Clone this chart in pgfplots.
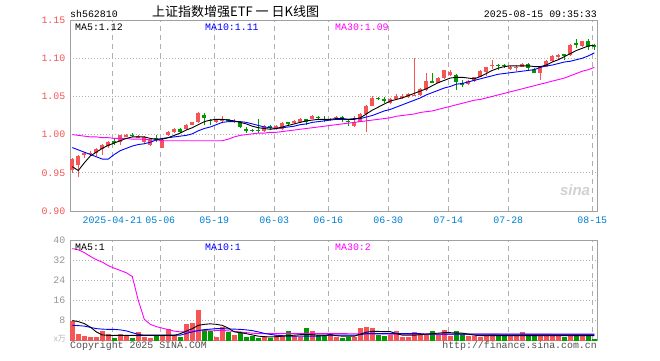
\documentclass[border=0pt]{standalone}
\usepackage{fontspec}
\usepackage{pgfplots}
\usepackage{pgfplotstable}
\pgfplotsset{compat=1.18}
\setmainfont{Liberation Mono}
\newfontfamily\cjk{Noto Sans CJK SC}
\newfontfamily\sansf{Liberation Sans}
\definecolor{cred}{RGB}{245,85,85}
\definecolor{cgreen}{RGB}{0,153,0}
\definecolor{cblue}{RGB}{0,0,255}
\definecolor{cmag}{RGB}{255,0,255}
\definecolor{cframe}{RGB}{160,160,160}
\definecolor{cgrid}{RGB}{175,175,175}
\definecolor{cdate}{RGB}{0,128,208}
\definecolor{cvlab}{RGB}{150,150,150}
\definecolor{ccopy}{RGB}{80,80,80}

\pgfplotstableread{
i o h l c v
0 0.954 0.970 0.950 0.968 8.0
1 0.960 0.973 0.944 0.972 2.6
2 0.973 0.977 0.970 0.976 1.8
3 0.975 0.978 0.972 0.976 1.4
4 0.976 0.982 0.972 0.981 1.4
5 0.981 0.988 0.973 0.986 3.7
6 0.985 0.992 0.983 0.990 2.6
8 0.990 1.000 0.986 0.999 2.6
9 0.998 1.001 0.997 0.999 1.8
11 0.996 0.999 0.995 0.998 3.4
12 0.990 0.998 0.988 0.997 1.4
13 0.986 0.995 0.985 0.994 1.0
15 0.983 0.994 0.982 0.993 1.8
16 0.999 1.005 0.998 1.004 4.5
17 1.003 1.008 1.002 1.007 2.2
19 1.007 1.014 1.006 1.012 6.8
20 1.013 1.017 1.012 1.016 7.2
21 1.016 1.030 1.015 1.028 12.3
24 1.016 1.020 1.015 1.019 1.4
25 1.018 1.024 1.016 1.019 5.3
27 1.017 1.020 1.015 1.018 2.2
32 1.005 1.013 1.004 1.011 1.8
34 1.007 1.012 1.006 1.011 2.2
35 1.007 1.016 1.006 1.015 1.8
37 1.015 1.019 1.014 1.018 1.8
38 1.017 1.022 1.016 1.021 1.4
40 1.021 1.026 1.020 1.025 3.7
43 1.019 1.022 1.018 1.021 2.6
44 1.022 1.024 1.020 1.023 1.3
47 1.011 1.025 1.010 1.016 1.5
48 1.017 1.028 1.016 1.027 5.0
49 1.027 1.039 1.003 1.038 5.4
50 1.038 1.050 1.037 1.048 5.0
53 1.041 1.048 1.040 1.047 2.2
54 1.047 1.053 1.046 1.051 3.7
55 1.049 1.053 1.047 1.050 1.5
56 1.049 1.054 1.048 1.053 1.5
57 1.051 1.100 1.050 1.052 3.5
58 1.052 1.061 1.051 1.060 2.6
59 1.058 1.080 1.057 1.070 2.2
61 1.068 1.075 1.067 1.074 2.2
62 1.074 1.085 1.073 1.084 4.1
63 1.078 1.085 1.077 1.082 1.8
66 1.066 1.071 1.065 1.070 1.8
67 1.070 1.076 1.069 1.075 1.8
68 1.076 1.084 1.075 1.083 1.5
69 1.082 1.089 1.077 1.088 1.8
70 1.090 1.097 1.086 1.091 2.8
73 1.087 1.090 1.084 1.088 1.8
74 1.088 1.091 1.083 1.089 1.8
75 1.089 1.094 1.088 1.093 3.4
78 1.081 1.089 1.072 1.088 1.8
79 1.089 1.097 1.088 1.096 2.8
80 1.096 1.104 1.095 1.103 1.8
81 1.103 1.106 1.098 1.104 1.8
83 1.104 1.118 1.103 1.117 1.8
85 1.116 1.123 1.115 1.122 1.8
}\upt

\pgfplotstableread{
i o h l c v
7 0.991 0.994 0.986 0.990 1.0
10 1.000 1.002 0.997 0.999 1.0
14 0.995 0.999 0.990 0.994 1.8
18 1.007 1.008 1.002 1.003 1.4
22 1.026 1.028 1.012 1.022 4.1
23 1.019 1.021 1.013 1.018 3.7
26 1.020 1.021 1.017 1.019 3.4
28 1.016 1.018 1.009 1.010 3.4
29 1.007 1.010 1.002 1.006 1.4
30 1.006 1.007 1.003 1.005 1.8
31 1.006 1.021 1.002 1.005 1.0
33 1.011 1.013 1.006 1.010 1.0
36 1.016 1.017 1.013 1.015 3.7
39 1.020 1.021 1.012 1.016 4.9
41 1.023 1.025 1.019 1.022 2.2
42 1.021 1.025 1.016 1.020 2.2
45 1.023 1.024 1.016 1.020 1.0
46 1.018 1.020 1.011 1.017 1.5
51 1.048 1.049 1.045 1.047 2.2
52 1.046 1.049 1.041 1.045 1.8
60 1.070 1.080 1.067 1.069 3.7
64 1.078 1.079 1.059 1.069 3.7
65 1.067 1.071 1.062 1.066 2.6
71 1.091 1.093 1.084 1.090 1.8
72 1.091 1.092 1.087 1.090 1.8
76 1.093 1.094 1.085 1.087 2.8
77 1.086 1.087 1.080 1.081 1.8
82 1.105 1.106 1.098 1.104 1.4
84 1.120 1.125 1.113 1.117 2.2
86 1.122 1.125 1.111 1.115 2.8
87 1.117 1.119 1.111 1.116 0.6
}\dnt

\pgfplotsset{
  kbase/.style={
    scale only axis, width=527pt, xmin=-0.383, xmax=87.45,
    axis line style={cframe, line width=1pt},
    xtick={6.667,14.667,23.667,33.667,42.667,52.667,62.667,72.667,86.667},
    xmajorgrids, ymajorgrids,
    x grid style={cgrid, line width=0.8pt, dash pattern=on 5pt off 4pt},
    y grid style={cgrid, line width=0.8pt, dash pattern=on 1pt off 2pt},
    major tick length=0pt,
    tick label style={font=\fontsize{9.9}{11}\selectfont},
    /pgf/number format/assume math mode=true,
    yticklabel style={anchor=east, inner sep=0pt, xshift=-4.5pt},
  },
  wick/.style={draw=none, no markers, forget plot,
    error bars/.cd, y dir=plus, y explicit, error mark=none,
    error bar style={draw=#1, line width=1pt}},
  body/.style={draw=none, no markers, forget plot,
    error bars/.cd, y dir=both, y explicit, error mark=none,
    error bar style={draw=#1, line width=4.2pt}},
}

\begin{document}
\begin{tikzpicture}[font=\fontsize{9.9}{11}\selectfont]
\path[use as bounding box] (0pt,0pt) rectangle (660pt,360pt);

% ---------- price panel ----------
\begin{axis}[kbase, at={(70pt,149pt)}, anchor=south west, height=191pt,
  ymin=0.90, ymax=1.15, ytick={0.90,0.95,1.00,1.05,1.10,1.15},
  yticklabel style={text=cred, /pgf/number format/.cd, fixed, fixed zerofill, precision=2},
  xticklabels={2025-04-21,05-06,05-19,06-03,06-16,06-30,07-14,07-28,08-15},
  xticklabel style={text=cdate, anchor=north, inner sep=0pt, yshift=-6pt},
]
\addplot[wick=cred] table[x=i, y=l, y error plus expr=\thisrow{h}-\thisrow{l}] {\upt};
\addplot[wick=cgreen] table[x=i, y=l, y error plus expr=\thisrow{h}-\thisrow{l}] {\dnt};
\addplot[body=cred] table[x=i, y expr={(\thisrow{o}+\thisrow{c})/2}, y error expr={max(abs(\thisrow{c}-\thisrow{o})/2,0.0005)}] {\upt};
\addplot[body=cgreen] table[x=i, y expr={(\thisrow{o}+\thisrow{c})/2}, y error expr={max(abs(\thisrow{c}-\thisrow{o})/2,0.0005)}] {\dnt};
% MA30
\addplot[cmag, line width=0.9pt, mark=none] coordinates {
(0,1.000) (1,0.999) (2,0.998) (3,0.997) (4,0.997) (5,0.996) (6,0.996) (7,0.995) (8,0.995) (9,0.995)
(10,0.994) (11,0.994) (12,0.994) (13,0.993) (14,0.993) (15,0.992) (16,0.992) (20,0.992) (25,0.992)
(26,0.994) (27,0.997) (28,0.999) (29,1.000) (30,1.001) (31,1.002) (32,1.002) (33,1.003) (34,1.003)
(35,1.004) (36,1.005) (37,1.006) (38,1.007) (39,1.008) (40,1.009) (41,1.010) (42,1.011) (43,1.012)
(44,1.013) (45,1.014) (46,1.015) (47,1.016) (48,1.017) (49,1.018) (50,1.019) (51,1.020) (52,1.021)
(53,1.022) (54,1.024) (55,1.025) (56,1.026) (57,1.027) (58,1.029) (59,1.030) (60,1.031) (61,1.033)
(62,1.035) (63,1.037) (64,1.039) (65,1.041) (66,1.043) (67,1.045) (68,1.046) (69,1.048) (70,1.050)
(71,1.052) (72,1.054) (73,1.056) (74,1.058) (75,1.060) (76,1.062) (77,1.064) (78,1.066) (79,1.068)
(80,1.070) (81,1.072) (82,1.074) (83,1.077) (84,1.080) (85,1.083) (86,1.085) (87,1.088)};
% MA10
\addplot[cblue, line width=0.9pt, mark=none] coordinates {
(0,0.983) (1,0.980) (2,0.977) (3,0.974) (4,0.971) (5,0.968) (6,0.968) (7,0.974) (8,0.979) (9,0.982)
(10,0.985) (11,0.987) (12,0.988) (13,0.990) (14,0.993) (15,0.995) (16,0.996) (17,0.997) (18,0.998)
(19,0.999) (20,1.001) (21,1.005) (22,1.008) (23,1.010) (24,1.013) (25,1.016) (26,1.017) (27,1.017)
(28,1.017) (29,1.016) (30,1.014) (31,1.012) (32,1.010) (33,1.009) (34,1.008) (35,1.009) (36,1.010)
(37,1.011) (38,1.013) (39,1.014) (40,1.016) (41,1.017) (42,1.018) (43,1.019) (44,1.020) (45,1.020)
(46,1.020) (47,1.021) (48,1.021) (49,1.023) (50,1.025) (51,1.028) (52,1.031) (53,1.033) (54,1.036)
(55,1.039) (56,1.042) (57,1.045) (58,1.048) (59,1.052) (60,1.055) (61,1.058) (62,1.061) (63,1.063)
(64,1.066) (65,1.067) (66,1.069) (67,1.071) (68,1.073) (69,1.075) (70,1.077) (71,1.079) (72,1.080)
(73,1.081) (74,1.082) (75,1.083) (76,1.084) (77,1.085) (78,1.088) (79,1.090) (80,1.091) (81,1.093)
(82,1.095) (83,1.096) (84,1.098) (85,1.100) (86,1.103) (87,1.107)};
% MA5
\addplot[black, line width=0.9pt, mark=none] coordinates {
(0,0.958) (1,0.953) (2,0.963) (3,0.972) (4,0.977) (5,0.982) (6,0.986) (7,0.989) (8,0.992) (9,0.995)
(10,0.997) (11,0.997) (12,0.997) (13,0.995) (14,0.994) (15,0.994) (16,0.996) (17,0.999) (18,1.002)
(19,1.006) (20,1.009) (21,1.013) (22,1.017) (23,1.019) (24,1.020) (25,1.020) (26,1.019) (27,1.018)
(28,1.016) (29,1.014) (30,1.011) (31,1.009) (32,1.008) (33,1.007) (34,1.008) (35,1.010) (36,1.012)
(37,1.014) (38,1.016) (39,1.018) (40,1.019) (41,1.020) (42,1.020) (43,1.020) (44,1.021) (45,1.021)
(46,1.020) (47,1.020) (48,1.022) (49,1.027) (50,1.032) (51,1.036) (52,1.040) (53,1.044) (54,1.046)
(55,1.048) (56,1.051) (57,1.054) (58,1.057) (59,1.060) (60,1.064) (61,1.068) (62,1.071) (63,1.074)
(64,1.075) (65,1.075) (66,1.074) (67,1.073) (68,1.076) (69,1.080) (70,1.084) (71,1.087) (72,1.089)
(73,1.090) (74,1.090) (75,1.090) (76,1.090) (77,1.089) (78,1.089) (79,1.091) (80,1.095) (81,1.098)
(82,1.102) (83,1.106) (84,1.110) (85,1.113) (86,1.116) (87,1.117)};
\end{axis}

% ---------- volume panel ----------
\begin{axis}[kbase, at={(70pt,19.3pt)}, anchor=south west, height=100.7pt,
  ymin=0, ymax=40, ytick={8,16,24,32,40},
  yticklabel style={text=cvlab},
  xticklabels={},
]
\addplot[ycomb, cred, line width=5pt, mark=none] table[x=i, y=v] {\upt};
\addplot[ycomb, cgreen, line width=5pt, mark=none] table[x=i, y=v] {\dnt};
% MA30 volume
\addplot[cmag, line width=0.9pt, mark=none] coordinates {
(0,36.6) (1,36.1) (2,35.0) (3,33.5) (4,32.2) (5,31.2) (6,29.8) (7,28.8) (8,27.9) (9,27.0)
(10,25.5) (11,16.0) (12,8.5) (13,6.5) (14,5.6) (15,5.0) (16,4.4) (17,3.8) (18,3.5) (19,3.5)
(20,3.8) (21,4.1) (22,4.2) (23,4.2) (24,4.1) (25,4.1) (26,3.9) (27,3.7) (28,3.5) (29,3.2)
(30,3.0) (31,2.8) (45,2.8) (55,2.6) (70,2.6) (87,2.4)};
% MA10 volume
\addplot[cblue, line width=0.9pt, mark=none] coordinates {
(0,6.1) (1,6.0) (2,5.8) (3,5.3) (4,4.8) (5,4.6) (6,4.5) (7,4.5) (8,4.3) (9,3.9) (10,3.2) (11,2.5)
(12,2.2) (18,2.2) (19,2.9) (20,3.5) (21,4.0) (22,4.4) (23,4.6) (24,4.8) (25,4.8) (26,4.7) (27,4.6)
(28,4.5) (29,4.3) (30,4.0) (31,3.5) (32,2.9) (33,2.5) (34,2.2) (35,2.0) (36,1.8) (41,1.8) (42,2.0)
(43,2.2) (47,2.2) (48,2.4) (49,2.8) (58,2.8) (59,2.6) (87,2.6)};
% MA5 volume
\addplot[black, line width=0.9pt, mark=none] coordinates {
(0,8.0) (1,7.6) (2,6.8) (3,5.4) (4,3.5) (5,2.3) (6,2.1) (17,2.1) (18,2.8) (19,3.8) (20,4.8) (21,6.1)
(22,6.5) (23,6.7) (24,6.5) (25,6.1) (26,5.0) (27,3.5) (28,3.2) (29,2.8) (30,2.3) (31,1.8) (32,1.6)
(33,1.5) (34,1.6) (35,1.8) (36,2.0) (37,2.2) (38,2.4) (39,2.5) (40,2.4) (41,2.2) (42,2.2) (43,2.4)
(44,2.0) (45,1.8) (47,1.8) (48,2.6) (49,3.4) (50,3.7) (51,3.7) (52,3.6) (53,3.6) (54,2.8) (55,2.2)
(57,2.2) (58,2.4) (59,2.6) (60,2.8) (61,3.0) (62,3.2) (63,3.2) (64,3.0) (65,3.0) (66,2.6) (67,2.2)
(68,2.0) (87,2.0)};
\end{axis}

% ---------- texts ----------
\node[anchor=base west, inner sep=0pt] at (70pt,343pt) {sh562810};
\node[anchor=base west, inner sep=0pt] at (152pt,344pt) {\cjk\fontsize{13}{13}\selectfont 上证指数增强ETF 一 日K线图};
\node[anchor=base east, inner sep=0pt] at (597pt,343pt) {2025-08-15 09:35:33};
\node[anchor=base west, inner sep=0pt] at (75pt,330pt) {MA5:1.12};
\node[anchor=base west, inner sep=0pt, text=cblue] at (205pt,330pt) {MA10:1.11};
\node[anchor=base west, inner sep=0pt, text=cmag] at (335pt,330pt) {MA30:1.09};
\node[anchor=base west, inner sep=0pt] at (75pt,110pt) {MA5:1};
\node[anchor=base west, inner sep=0pt, text=cblue] at (205pt,110pt) {MA10:1};
\node[anchor=base west, inner sep=0pt, text=cmag] at (335pt,110pt) {MA30:2};
\node[anchor=base west, inner sep=0pt, text=ccopy] at (70pt,12pt) {Copyright 2025 SINA.COM};
\node[anchor=base east, inner sep=0pt, text=ccopy] at (597pt,12pt) {http://finance.sina.com.cn};
\node[anchor=east, inner sep=0pt, text=cvlab!70] at (66pt,21pt) {\cjk\fontsize{8}{8}\selectfont x万};
\node[text=black!18, inner sep=0pt] at (575pt,170pt) {\sansf\bfseries\itshape\fontsize{15}{15}\selectfont sina};
\end{tikzpicture}
\end{document}
